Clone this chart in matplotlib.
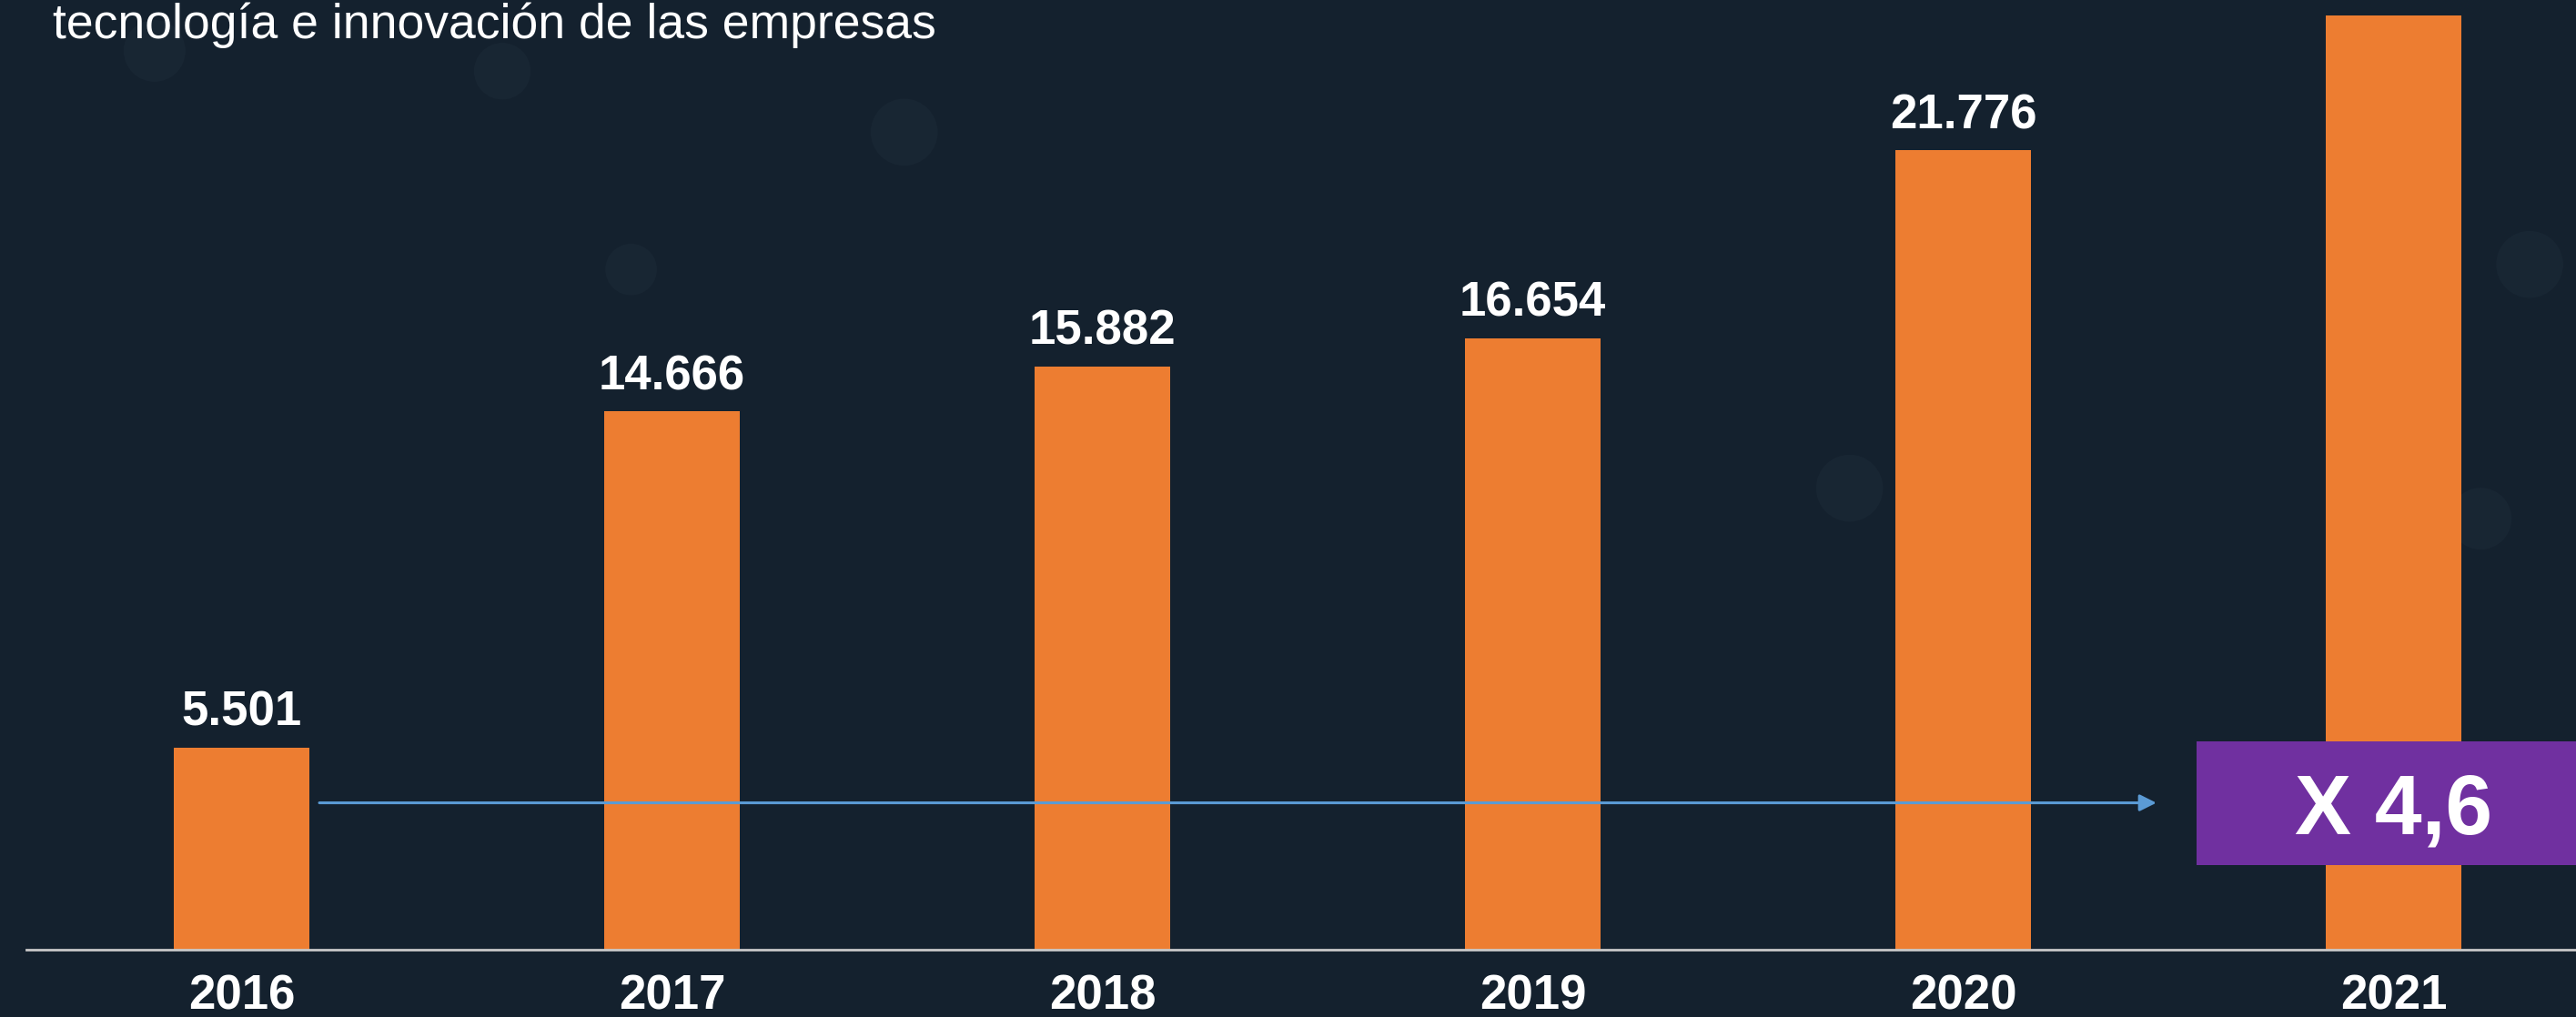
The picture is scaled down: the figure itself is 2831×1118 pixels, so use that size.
import matplotlib
matplotlib.use("Agg")
import matplotlib.pyplot as plt
from matplotlib.patches import Rectangle, Circle

# ---- data ----
years = ["2016", "2017", "2018", "2019", "2020", "2021"]
values = [5.501, 14.666, 15.882, 16.654, 21.776, 25.45]
value_labels = ["5.501", "14.666", "15.882", "16.654", "21.776", ""]
subtitle = "tecnología e innovación de las empresas"
multiplier_label = "X 4,6"

# ---- style ----
BG = "#14212E"
ORANGE = "#ED7D31"
PURPLE = "#7030A0"
BLUE = "#5B9BD5"
AXIS = "#C8C8C8"
FONT = "Liberation Sans"

W, H, DPI = 2831, 1118, 100
fig = plt.figure(figsize=(W / DPI, H / DPI), dpi=DPI, facecolor=BG)
ax = fig.add_axes([0, 0, 1, 1])
ax.set_facecolor(BG)
ax.set_axis_off()

px_per_cat = 473.0
x0_px = 265.5
px_per_unit = 40.36
base_px = 74.0  # from bottom
ax.set_xlim(-x0_px / px_per_cat, (W - x0_px) / px_per_cat)
ax.set_ylim(-base_px / px_per_unit, (H - base_px) / px_per_unit)

# faint decorative bokeh spots of the background picture (figure-fraction)
for cx, cy, r in [(0.351, 0.87, 0.013), (0.245, 0.735, 0.010), (0.718, 0.52, 0.013),
                  (0.982, 0.74, 0.013), (0.963, 0.49, 0.012), (0.06, 0.95, 0.012),
                  (0.195, 0.93, 0.011)]:
    ax.add_patch(Circle((cx * W, cy * H), r * W, transform=None,
                        facecolor="#2E3E4C", alpha=0.18, edgecolor="none",
                        zorder=0.5))

xs = list(range(len(years)))
bw = 149 / px_per_cat
ax.bar(xs, values, width=bw, color=ORANGE, zorder=2)

# baseline
ax.axhline(0, xmin=29 / W, xmax=1, color=AXIS, lw=2, zorder=3)

# value labels
for x, v, lab in zip(xs, values, value_labels):
    if lab:
        ax.annotate(lab, (x, v), xytext=(0, 17.3), textcoords="offset points",
                    ha="center", va="baseline", color="white",
                    fontsize=38, fontweight="bold", family=FONT)

# year labels
for x, y in zip(xs, years):
    ax.annotate(y, (x, 0), xytext=(0, -47.5), textcoords="offset points",
                ha="center", va="baseline", color="white",
                fontsize=38, fontweight="bold", family=FONT)

# arrow from 2016 bar to the multiplier box
arrow_y = 4.0
x_start = xs[0] + bw / 2 + 11 / px_per_cat
x_end = xs[-1] - 0.551
ax.annotate("", xy=(x_end, arrow_y), xytext=(x_start, arrow_y),
            arrowprops=dict(arrowstyle="-|>,head_length=1.1,head_width=0.55",
                            color=BLUE, lw=2.2, shrinkA=0, shrinkB=0),
            zorder=3)

# multiplier box
box_left = xs[-1] - 0.458
box_h = 136 / px_per_unit
ax.add_patch(Rectangle((box_left, arrow_y - box_h / 2), 2.0, box_h,
                       facecolor=PURPLE, edgecolor="none", zorder=4))
ax.text(xs[-1], arrow_y, multiplier_label, ha="center", va="center_baseline",
        color="white", fontsize=67, fontweight="bold", family=FONT, zorder=5)

# subtitle (top-left, partially cropped heading)
fig.text(58 / W, 1 - 42 / H, subtitle, ha="left", va="baseline",
         color="white", fontsize=38.5, family=FONT)

fig.savefig("out.png", dpi=DPI, facecolor=BG)
